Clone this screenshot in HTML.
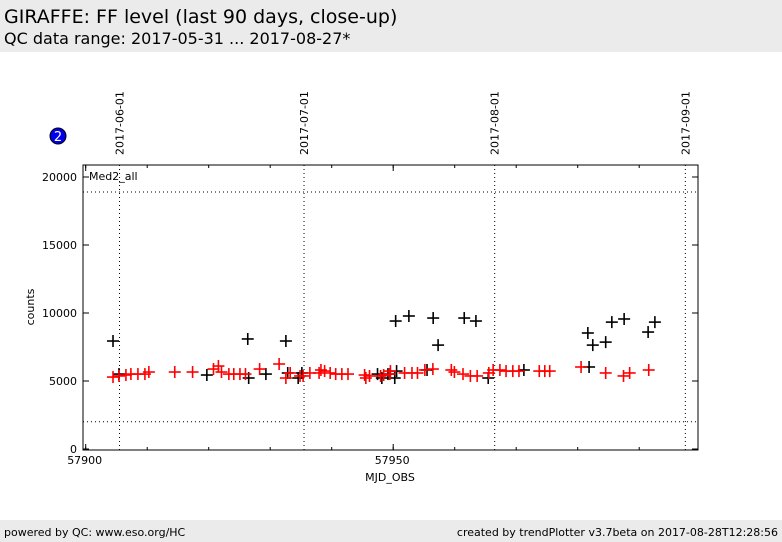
<!DOCTYPE html>
<html><head><meta charset="utf-8"><style>
body{margin:0;width:782px;height:542px;background:#fff;font-family:"DejaVu Sans","Liberation Sans",sans-serif;position:relative;overflow:hidden}
.hdr{position:absolute;left:0;top:0;width:782px;height:52px;background:#ebebeb}
.ftr{position:absolute;left:0;top:520px;width:782px;height:22px;background:#ebebeb;font-size:11px}
</style></head><body>
<div class="hdr">
<div style="position:absolute;left:4px;top:6px;font-size:19px">GIRAFFE: FF level (last 90 days, close-up)</div>
<div style="position:absolute;left:4px;top:29px;font-size:16px">QC data range: 2017-05-31 ... 2017-08-27*</div>
</div>
<svg id="chart" width="782" height="520" style="position:absolute;left:0;top:0" font-family="DejaVu Sans, Liberation Sans, sans-serif"></svg>
<div class="ftr">
<span style="position:absolute;left:4px;top:6px">powered by QC: www.eso.org/HC</span>
<span style="position:absolute;right:4px;top:6px">created by trendPlotter v3.7beta on 2017-08-28T12:28:56</span>
</div>
<script>
const blackX=[4.44,5.41,19.7,26.35,26.5,29.3,32.55,32.85,34.55,35.15,47.45,48.15,49.15,50.4,50.55,50.25,52.55,55.5,56.5,57.3,61.55,63.45,65.45,71.25,81.65,81.85,82.45,84.55,85.55,87.55,91.45,92.55];
const blackY=[7940,5510,5440,8090,5220,5510,7940,5590,5220,5590,5510,5220,5510,9410,5730,5220,9780,5810,9630,7640,9630,9410,5220,5810,8530,6030,7640,7860,9330,9560,8600,9330];
const redX=[4.44,5.41,6.54,7.35,8.49,9.63,10.27,14.48,17.38,20.78,21.58,22.08,23.28,24.08,25.08,25.98,28.28,31.45,32.55,33.25,34.85,35.35,36.45,37.95,38.25,38.85,39.75,40.65,41.65,42.65,45.35,45.55,46.15,47.95,48.45,49.45,49.55,51.85,53.05,53.95,55.15,56.45,59.45,59.95,61.35,62.55,63.65,65.55,66.25,67.35,68.35,69.45,70.45,73.75,74.65,75.45,80.55,84.55,87.45,88.45,91.55];
const redY=[5290,5370,5440,5510,5510,5510,5660,5660,5660,5880,6100,5660,5510,5510,5510,5510,5880,6250,5220,5590,5370,5370,5590,5590,5810,5730,5590,5510,5510,5510,5440,5220,5370,5370,5440,5510,5730,5590,5590,5590,5810,5880,5810,5660,5510,5370,5370,5590,5810,5810,5730,5730,5730,5730,5730,5730,6030,5590,5370,5590,5810];
const yTicks=[0,5000,10000,15000,20000];
const xTicks=[57900,57950];
const dateLabels=["2017-06-01","2017-07-01","2017-08-01","2017-09-01"];
const dateMjd=[57905.5,57935.5,57966.5,57997.5];
const hLines=[18900,2000];
const MJD0=57900;
const svg=document.getElementById('chart');
const NS='http://www.w3.org/2000/svg';
const L=83,R=698,T=165,B=450;
const sx=d=>85.7+(d-MJD0)*6.15;
const sy=v=>449-v*0.0136;
function mk(t,a,p){const e=document.createElementNS(NS,t);for(const k in a)e.setAttribute(k,a[k]);(p||svg).appendChild(e);return e;}
const frame=mk('rect',{x:L,y:T,width:R-L,height:B-T,fill:'none',stroke:'#000','stroke-width':1});


for(let d=MJD0;d<=MJD0+100;d+=10){const x=sx(d);if(x<L||x>R)continue;
 mk('line',{x1:x,y1:B,x2:x,y2:B-3,stroke:'#000'});mk('line',{x1:x,y1:T,x2:x,y2:T+3,stroke:'#000'});}
xTicks.forEach(v=>{const x=sx(v);
 mk('line',{x1:x,y1:B,x2:x,y2:B-6,stroke:'#000'});mk('line',{x1:x,y1:T,x2:x,y2:T+6,stroke:'#000'});
 const t=mk('text',{x:x-1,y:B+14,'font-size':11,'text-anchor':'middle'});t.textContent=v;
 
 });
yTicks.forEach(v=>{const y=sy(v);
 mk('line',{x1:L,y1:y,x2:L+6,y2:y,stroke:'#000'});mk('line',{x1:R,y1:y,x2:R-6,y2:y,stroke:'#000'});
 const t=mk('text',{x:L-6,y:y+4,'font-size':11,'text-anchor':'end'});t.textContent=v;
 
 });
hLines.forEach(v=>{const l=mk('line',{x1:L,y1:sy(v),x2:R,y2:sy(v),stroke:'#000','stroke-dasharray':'1,3'});
 
 });
dateMjd.forEach((d,i)=>{const x=sx(d);
 const l=mk('line',{x1:x,y1:T,x2:x,y2:B,stroke:'#000','stroke-dasharray':'1,3'});
 
 
 const t=mk('text',{x:0,y:0,'font-size':11,transform:`translate(${x+4},155) rotate(-90)`});t.textContent=dateLabels[i];
 
 });
function plus(x,y,c,name){const g=mk('g',{stroke:c,'stroke-width':1.6});
 
 
 mk('line',{x1:x-6,y1:y,x2:x+6,y2:y},g);mk('line',{x1:x,y1:y-6,x2:x,y2:y+6},g);}
blackX.forEach((d,i)=>plus(sx(MJD0+d),sy(blackY[i]),'#000','black-point'));
redX.forEach((d,i)=>plus(sx(MJD0+d),sy(redY[i]),'#f00','red-point'));
const lab=mk('text',{x:89,y:180,'font-size':11});lab.textContent='Med2_all';


const yt=mk('text',{x:0,y:0,'font-size':11,'text-anchor':'middle',transform:'translate(34,307) rotate(-90)'});yt.textContent='counts';


const xt=mk('text',{x:390,y:481,'font-size':11,'text-anchor':'middle'});xt.textContent='MJD_OBS';


const c=mk('circle',{cx:58,cy:136,r:8,fill:'#0000ee',stroke:'#000'});


const ct=mk('text',{x:58,y:141,'font-size':13,fill:'#fff','text-anchor':'middle'});ct.textContent='2';


</script>
</body></html>
